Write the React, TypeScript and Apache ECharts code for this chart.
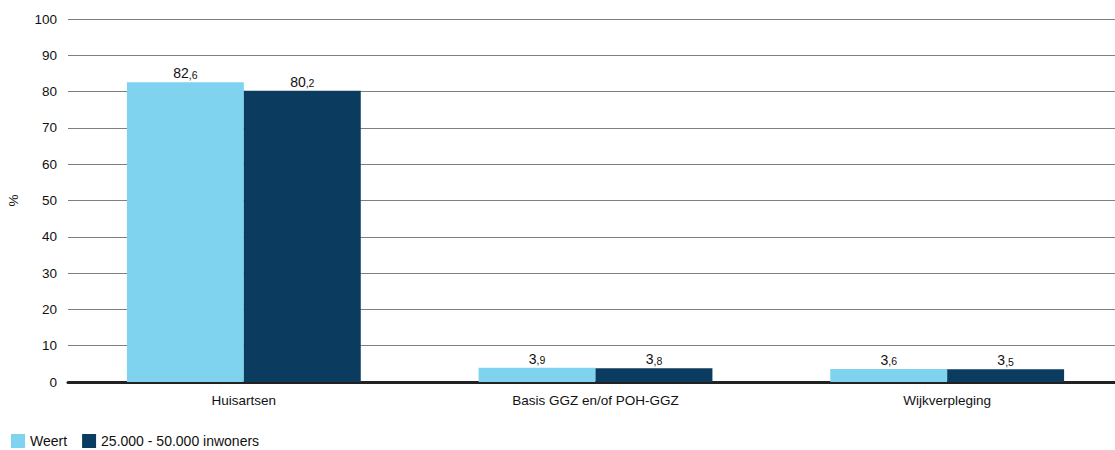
import React, { useEffect, useRef } from "react";
import * as echarts from "echarts";

const categories = ["Huisartsen", "Basis GGZ en/of POH-GGZ", "Wijkverpleging"];
const weert = [82.6, 3.9, 3.6];
const gemeenten = [80.2, 3.8, 3.5];
const seriesNames = ["Weert", "25.000 - 50.000 inwoners"];
const colors = ["#7fd3ee", "#0b3c5f"];

const fmt = (p: any) => {
  const s = Number(p.value).toFixed(1).split(".");
  return `{a|${s[0]}}{b|,${s[1]}}`;
};

export default function App() {
  const ref = useRef<HTMLDivElement>(null);
  useEffect(() => {
    const chart = echarts.init(ref.current!, null, { renderer: "svg" });
    const font = "'Liberation Sans', Arial, sans-serif";
    const label = {
      show: true,
      position: "top",
      distance: 2,
      formatter: fmt,
      rich: {
        a: { fontSize: 14, color: "#111", fontFamily: font },
        b: { fontSize: 10.5, color: "#111", fontFamily: font, padding: [3, 0, 0, 0] },
      },
    };
    chart.setOption({
      animation: false,
      textStyle: { fontFamily: font },
      grid: { left: 68, width: 1055, top: 19, bottom: 68, outerBoundsMode: "none", containLabel: false },
      legend: {
        left: 11,
        top: 434,
        padding: 0,
        itemWidth: 14,
        itemHeight: 14,
        itemGap: 15,
        icon: "rect",
        textStyle: { fontSize: 14, color: "#111", fontFamily: font },
        data: seriesNames,
      },
      xAxis: {
        type: "category",
        data: categories,
        axisLine: { show: true, lineStyle: { color: "#222", width: 3 } },
        axisTick: { show: false },
        axisLabel: { fontSize: 13.5, color: "#111", margin: 11 },
      },
      yAxis: {
        type: "value",
        min: 0,
        max: 100,
        interval: 10,
        name: "%",
        nameLocation: "middle",
        nameRotate: 90,
        nameGap: 48,
        nameTextStyle: { fontSize: 13.5, color: "#111" },
        axisLine: { show: false },
        axisTick: { show: false },
        axisLabel: { fontSize: 13.5, color: "#111", margin: 11 },
        splitLine: { lineStyle: { color: "#808080", width: 1 } },
      },
      series: [
        {
          name: seriesNames[0],
          type: "bar",
          data: weert,
          itemStyle: { color: colors[0] },
          barGap: "0%",
          barCategoryGap: "33.5%",
          label,
        },
        {
          name: seriesNames[1],
          type: "bar",
          data: gemeenten,
          itemStyle: { color: colors[1] },
          label,
        },
      ],
    });
    return () => chart.dispose();
  }, []);
  return <div ref={ref} style={{ width: 1115, height: 450, position: "absolute", left: 0, top: 0 }} />;
}
